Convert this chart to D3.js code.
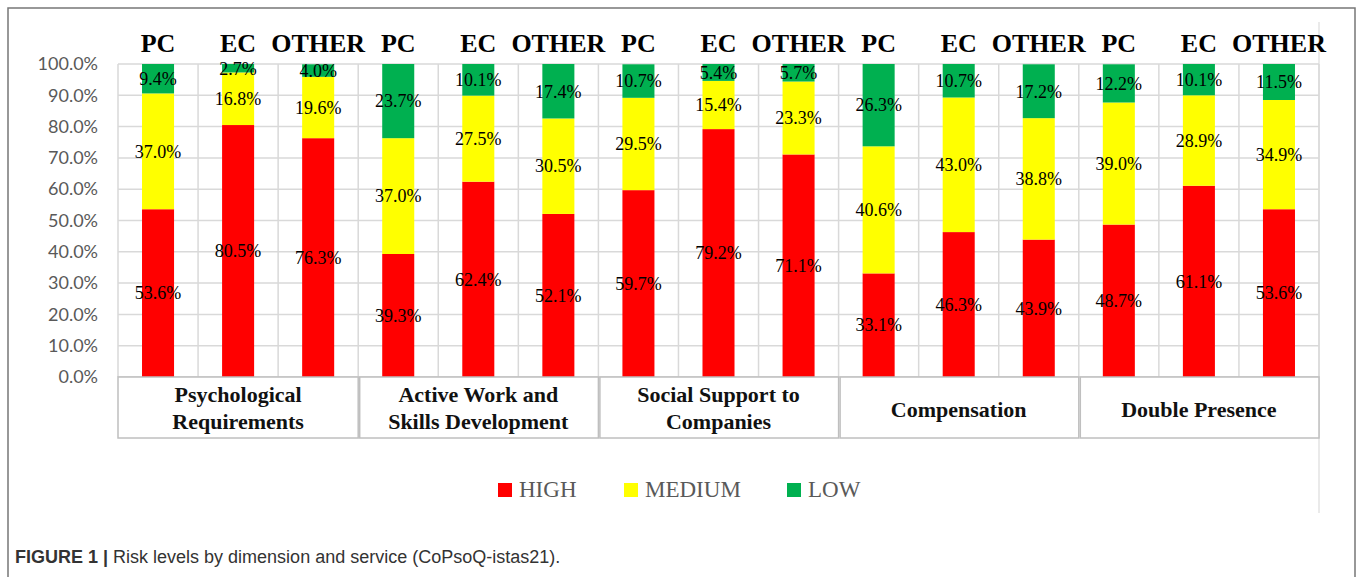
<!DOCTYPE html>
<html>
<head>
<meta charset="utf-8">
<script src="https://cdn.jsdelivr.net/npm/d3@7"></script>
<style>
  body { margin: 0; background: #fff; }
  svg { display: block; }
</style>
</head>
<body>
<svg width="1357" height="577"></svg>
<script>
// chart data
var groups = [
  ["Psychological", "Requirements"],
  ["Active Work and", "Skills Development"],
  ["Social Support to", "Companies"],
  ["Compensation"],
  ["Double Presence"]
];
var services = ["PC", "EC", "OTHER"];
var levels = ["HIGH", "MEDIUM", "LOW"];
var high   = [53.6, 80.5, 76.3, 39.3, 62.4, 52.1, 59.7, 79.2, 71.1, 33.1, 46.3, 43.9, 48.7, 61.1, 53.6];
var medium = [37.0, 16.8, 19.6, 37.0, 27.5, 30.5, 29.5, 15.4, 23.3, 40.6, 43.0, 38.8, 39.0, 28.9, 34.9];
var low    = [9.4, 2.7, 4.0, 23.7, 10.1, 17.4, 10.7, 5.4, 5.7, 26.3, 10.7, 17.2, 12.2, 10.1, 11.5];
var yTicks = [0, 10, 20, 30, 40, 50, 60, 70, 80, 90, 100];

var colors = { HIGH: "#ff0000", MEDIUM: "#ffff00", LOW: "#00b050" };

var svg = d3.select("svg");
var plotLeft = 118, plotRight = 1319, plotTop = 64, plotBottom = 377, boxBottom = 438;

var rows = high.map(function(h, i) {
  return {
    key: i,
    group: Math.floor(i / 3),
    service: services[i % 3],
    HIGH: h, MEDIUM: medium[i], LOW: low[i]
  };
});

var x = d3.scaleBand()
  .domain(rows.map(function(d) { return d.key; }))
  .range([plotLeft, plotRight])
  .paddingInner(0.6)
  .paddingOuter(0.3);

var y = d3.scaleLinear().domain([0, 100]).range([plotBottom, plotTop]);

// outer figure frame
svg.append("path")
  .attr("d", "M8,577V8H1355V577")
  .attr("fill", "none")
  .attr("stroke", "#777")
  .attr("stroke-width", 1.5);

// chart area right edge
svg.append("line")
  .attr("x1", plotRight).attr("x2", plotRight)
  .attr("y1", 22).attr("y2", 513)
  .attr("stroke", "#e3e3e3").attr("stroke-width", 1.5);

// gridlines
var grid = svg.append("g").attr("stroke", "#d9d9d9").attr("stroke-width", 1.5);
grid.selectAll("line.h").data(yTicks)
  .enter().append("line")
  .attr("class", "h")
  .attr("x1", plotLeft).attr("x2", plotRight)
  .attr("y1", function(d) { return y(d); })
  .attr("y2", function(d) { return y(d); });

var step = x.step();
grid.selectAll("line.v").data(d3.range(rows.length + 1))
  .enter().append("line")
  .attr("class", "v")
  .attr("x1", function(i) { return plotLeft + i * step; })
  .attr("x2", function(i) { return plotLeft + i * step; })
  .attr("y1", plotTop).attr("y2", plotBottom);

// y axis labels
var yAxis = d3.axisLeft(y)
  .tickValues(yTicks)
  .tickSize(0)
  .tickPadding(20)
  .tickFormat(function(d) { return d.toFixed(1) + "%"; });

var ya = svg.append("g")
  .attr("transform", "translate(" + plotLeft + ",0)")
  .call(yAxis);
ya.select(".domain").remove();
ya.selectAll("text")
  .attr("fill", "#595959")
  .style("font-family", "Lato, 'Open Sans', sans-serif")
  .style("font-size", "18px");

// stacked bars
var stack = d3.stack().keys(levels);
var series = stack(rows);

var layer = svg.selectAll("g.layer").data(series)
  .enter().append("g")
  .attr("class", "layer")
  .attr("fill", function(d) { return colors[d.key]; });

layer.selectAll("rect").data(function(d) { return d; })
  .enter().append("rect")
  .attr("x", function(d) { return x(d.data.key); })
  .attr("width", x.bandwidth())
  .attr("y", function(d) { return y(Math.min(d[1], 100)); })
  .attr("height", function(d) { return y(d[0]) - y(Math.min(d[1], 100)); });

// value labels
series.forEach(function(s) {
  svg.append("g").selectAll("text").data(s)
    .enter().append("text")
    .attr("x", function(d) { return x(d.data.key) + x.bandwidth() / 2; })
    .attr("y", function(d) { return y((d[0] + Math.min(d[1], 100)) / 2); })
    .attr("dy", "0.35em")
    .attr("text-anchor", "middle")
    .style("font-family", "'Liberation Serif', 'Times New Roman', serif")
    .style("font-size", "18px")
    .attr("fill", "#000")
    .text(function(d) { return d.data[s.key].toFixed(1) + "%"; });
});

// service labels above bars
svg.append("g").selectAll("text").data(rows)
  .enter().append("text")
  .attr("x", function(d) { return x(d.key) + x.bandwidth() / 2; })
  .attr("y", 52)
  .attr("text-anchor", "middle")
  .style("font-family", "'Liberation Serif', 'Times New Roman', serif")
  .style("font-weight", "bold")
  .style("font-size", "26px")
  .text(function(d) { return d.service; });

// category boxes
var groupW = step * 3;
var gbox = svg.append("g").selectAll("g").data(groups)
  .enter().append("g");

gbox.append("rect")
  .attr("x", function(d, i) { return plotLeft + i * groupW + (i ? 1.5 : 0); })
  .attr("width", function(d, i) { return groupW - (i ? 1.5 : 0); })
  .attr("y", plotBottom)
  .attr("height", boxBottom - plotBottom)
  .attr("fill", "#fff")
  .attr("stroke", "#bfbfbf")
  .attr("stroke-width", 1.5);

gbox.each(function(lines, i) {
  var cx = plotLeft + i * groupW + groupW / 2;
  var y0 = lines.length === 1 ? 417 : 402;
  d3.select(this).selectAll("text").data(lines)
    .enter().append("text")
    .attr("x", cx)
    .attr("y", function(d, j) { return y0 + j * 27; })
    .attr("text-anchor", "middle")
    .style("font-family", "'Liberation Serif', 'Times New Roman', serif")
    .style("font-weight", "bold")
    .style("font-size", "22px")
    .attr("fill", "#111")
    .text(function(d) { return d; });
});

// legend
var legendX = [498, 624, 787];
var legend = svg.append("g").selectAll("g").data(levels)
  .enter().append("g")
  .attr("transform", function(d, i) { return "translate(" + legendX[i] + ",483)"; });

legend.append("rect")
  .attr("width", 14).attr("height", 14)
  .attr("fill", function(d) { return colors[d]; });

legend.append("text")
  .attr("x", 21)
  .attr("y", 14)
  .style("font-family", "'Liberation Serif', 'Times New Roman', serif")
  .style("font-size", "23px")
  .attr("fill", "#595959")
  .text(function(d) { return d; });

// caption
var cap = svg.append("text")
  .attr("x", 15)
  .attr("y", 563)
  .style("font-family", "'Liberation Sans', Arial, sans-serif")
  .style("font-size", "18px")
  .attr("fill", "#333");
cap.append("tspan").style("font-weight", "bold").text("FIGURE 1 | ");
cap.append("tspan").text("Risk levels by dimension and service (CoPsoQ-istas21).");
</script>
</body>
</html>
